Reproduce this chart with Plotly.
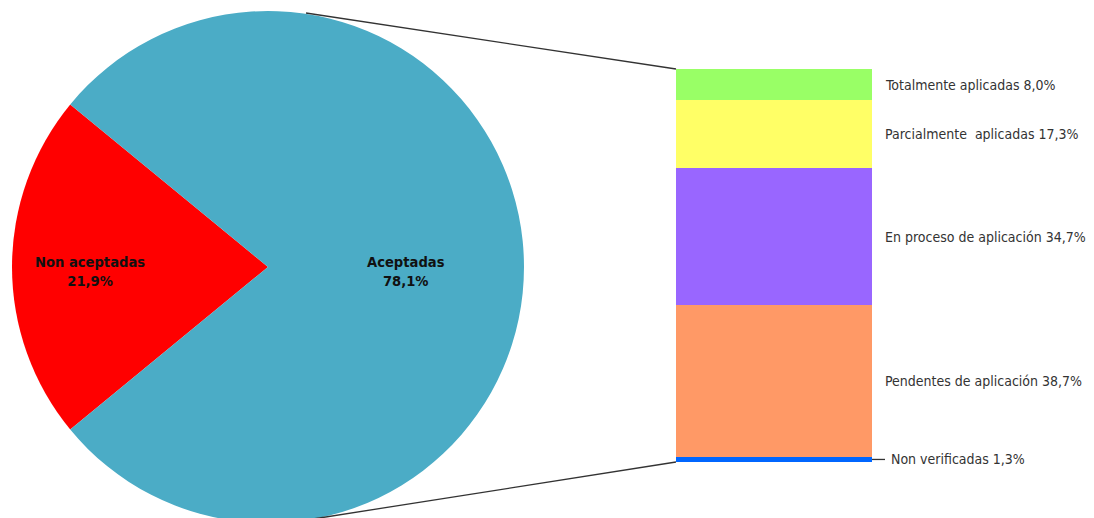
import plotly.graph_objects as go

W, H = 1094, 518
OFF = 8  # page offset of the plot div

pie_labels = ["Non aceptadas", "Aceptadas"]
pie_values = [21.9, 78.1]
pie_colors = ["#FF0000", "#4BACC6"]

bar_labels = ["Non verificadas", "Pendentes de aplicación", "En proceso de aplicación",
              "Parcialmente  aplicadas", "Totalmente aplicadas"]
bar_values = [1.3, 38.7, 34.7, 17.3, 8.0]
bar_colors = ["#0066FF", "#FF9966", "#9966FF", "#FFFF66", "#99FF66"]

def fmt(v):
    return f"{v:.1f}".replace(".", ",") + "%"

def px(x):
    return (x - OFF) / W

def py(y):
    return 1 - (y - OFF) / H

FONT = "DejaVu Sans Condensed, Open Sans, sans-serif"

fig = go.Figure()

red_start = 270 - pie_values[0] / 100 * 360 / 2
fig.add_trace(go.Pie(
    labels=pie_labels, values=pie_values, sort=False, direction="clockwise",
    rotation=red_start, marker=dict(colors=pie_colors, line=dict(width=0)),
    textinfo="none", hoverinfo="label+percent", showlegend=False,
    domain=dict(x=[px(12), px(524)], y=[py(523), py(11)]),
))

for lab, val, col in zip(bar_labels, bar_values, bar_colors):
    fig.add_trace(go.Bar(
        x=[0], y=[val], name=lab, marker=dict(color=col, line=dict(width=0)),
        width=1, xaxis="x2", yaxis="y2", showlegend=False,
    ))

fig.update_layout(
    width=W, height=H, margin=dict(l=0, r=0, t=0, b=0),
    paper_bgcolor="white", plot_bgcolor="white", barmode="stack",
    xaxis2=dict(domain=[px(676), px(872)], range=[-0.5, 0.5], visible=False, fixedrange=True),
    yaxis2=dict(domain=[py(462), py(69)], range=[0, 100], visible=False, fixedrange=True),
    font=dict(family=FONT),
)

annotations = []
pie_pos = [(90, 271), (406, 271)]
for lab, val, (x, y) in zip(pie_labels, pie_values, pie_pos):
    annotations.append(dict(
        x=px(x), y=py(y), xref="paper", yref="paper", showarrow=False,
        text=f"<b>{lab}<br>{fmt(val)}</b>", font=dict(size=14.6, color="#111111", family=FONT),
        xanchor="center", yanchor="middle", align="center",
    ))

cum = 0
for i, (lab, val) in enumerate(zip(bar_labels, bar_values)):
    mid = cum + val / 2
    cum += val
    xoff = px(889) if i == 0 else px(883)
    annotations.append(dict(
        x=xoff, y=mid, xref="paper", yref="y2", showarrow=False,
        text=f"{lab} {fmt(val)}", font=dict(size=14, color="#333333", family=FONT),
        xanchor="left", yanchor="middle",
    ))
fig.update_layout(annotations=annotations)

shapes = [
    dict(type="line", xref="paper", yref="paper", x0=px(306), y0=py(13),
         x1=px(676), y1=py(69), line=dict(color="#333333", width=1.3)),
    dict(type="line", xref="paper", yref="paper", x0=px(313), y0=py(519),
         x1=px(676), y1=py(462), line=dict(color="#333333", width=1.3)),
    dict(type="line", xref="paper", yref="y2", x0=px(872), x1=px(885),
         y0=bar_values[0] / 2, y1=bar_values[0] / 2, line=dict(color="#333333", width=1.3)),
]
fig.update_layout(shapes=shapes)

fig.write_html("out.html")
